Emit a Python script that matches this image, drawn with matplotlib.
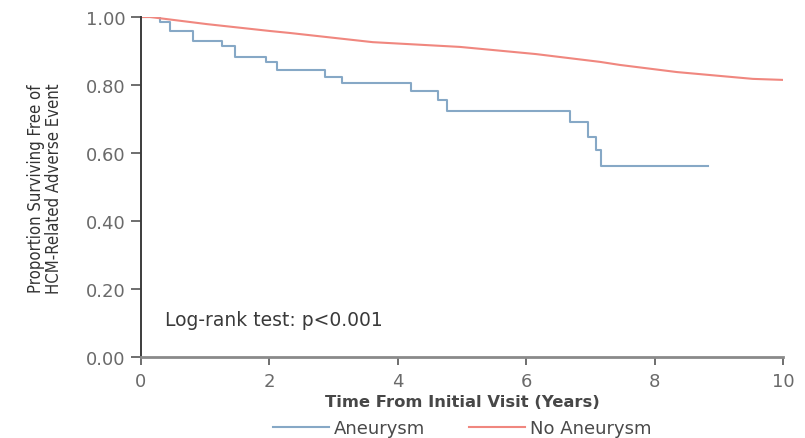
import matplotlib
matplotlib.use("Agg")
import matplotlib.pyplot as plt
from matplotlib.lines import Line2D

# Kaplan-Meier estimate, patients with LV apical aneurysm
aneurysm_time = [0, 0.30, 0.45, 0.81, 1.26, 1.46, 1.95, 2.12, 2.87, 3.13,
                 4.21, 4.63, 4.77, 6.68, 6.96, 7.09, 7.17, 8.83]
aneurysm_surv = [1.00, 0.985, 0.959, 0.929, 0.915, 0.882, 0.868, 0.844, 0.824, 0.806,
                 0.782, 0.756, 0.724, 0.691, 0.647, 0.609, 0.562, 0.562]

# Kaplan-Meier estimate, patients without aneurysm (large cohort, near-smooth curve)
no_aneurysm_time = [0, 0.14, 1.03, 2.00, 2.32, 3.61, 4.97, 6.15, 7.15, 7.46, 8.35, 9.53, 10.0]
no_aneurysm_surv = [1.00, 1.00, 0.979, 0.959, 0.953, 0.926, 0.912, 0.891, 0.868, 0.859,
                    0.838, 0.818, 0.815]

x_ticks = [0, 2, 4, 6, 8, 10]
y_ticks = [0.0, 0.2, 0.4, 0.6, 0.8, 1.0]
y_tick_labels = ["0.00", "0.20", "0.40", "0.60", "0.80", "1.00"]

blue = "#86a8c6"
red = "#f0877f"
tick_grey = "#6a6a6a"

fig = plt.figure(figsize=(8.05, 4.39), dpi=100)
ax = fig.add_axes([141 / 805, 1 - 358 / 439, (783 - 141) / 805, (358 - 18) / 439])

ax.step(aneurysm_time, aneurysm_surv, where="post", color=blue, lw=1.5)
ax.plot(no_aneurysm_time, no_aneurysm_surv, color=red, lw=1.5)

ax.set_xlim(0, 10)
ax.set_ylim(0, 1.0)
ax.set_xticks(x_ticks)
ax.set_xticklabels([str(t) for t in x_ticks])
ax.set_yticks(y_ticks)
ax.set_yticklabels(y_tick_labels)

for side in ("top", "right"):
    ax.spines[side].set_visible(False)
ax.spines["left"].set_color("#3c3c3c")
ax.spines["left"].set_linewidth(1.4)
ax.spines["bottom"].set_color("#8a8a8a")
ax.spines["bottom"].set_linewidth(2.0)

ax.tick_params(axis="y", direction="out", length=7, width=1.2, color="#555555",
               labelsize=13, labelcolor=tick_grey, pad=4)
ax.tick_params(axis="x", direction="out", length=6, width=1.2, color="#555555",
               labelsize=13, labelcolor=tick_grey, pad=5)

ax.set_xlabel("Time From Initial Visit (Years)", fontsize=11.8, fontweight="bold",
              color="#474747", labelpad=3)
fig.text(45 / 805, 1 - 189 / 439, "Proportion Surviving Free of\nHCM-Related Adverse Event",
         rotation=90, ha="center", va="center", fontsize=12, color="#333333",
         family="DejaVu Sans", fontstretch="condensed", linespacing=1.0)

ax.text(0.38, 0.095, "Log-rank test: p<0.001", fontsize=13.5, color="#3a3a3a",
        transform=ax.transData)

handles = [Line2D([], [], color=blue, lw=1.5), Line2D([], [], color=red, lw=1.5)]
fig.legend(handles, ["Aneurysm", "No Aneurysm"], loc="center",
           bbox_to_anchor=(462 / 805, 1 - 429 / 439), ncol=2, frameon=False,
           fontsize=13, handlelength=3.1, handletextpad=0.3, columnspacing=2.4,
           labelcolor="#4a4a4a", borderpad=0)

fig.savefig("out.png", dpi=100)
